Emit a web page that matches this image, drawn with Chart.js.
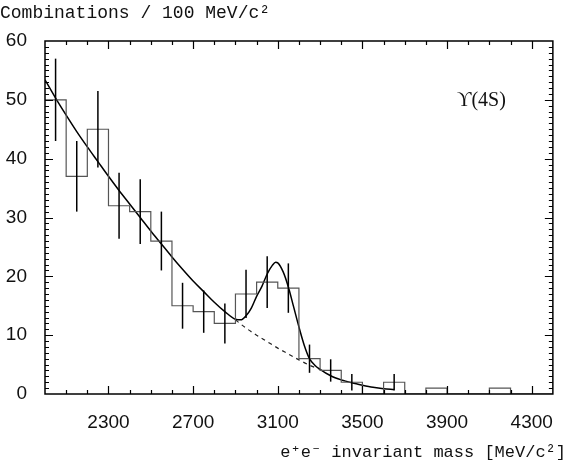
<!DOCTYPE html>
<html>
<head>
<meta charset="utf-8">
<script src="https://cdn.jsdelivr.net/npm/chart.js@4.4.0/dist/chart.umd.min.js"></script>
<style>
  html, body { margin: 0; padding: 0; background: #fff; }
  #wrap { width: 570px; height: 473px; }
</style>
</head>
<body>
<div id="wrap"><canvas id="mycanvas" width="570" height="473"></canvas></div>
<script>
// bins of 100 MeV/c2, lower edges
var binLow = [2000, 2100, 2200, 2300, 2400, 2500, 2600, 2700, 2800, 2900, 3000, 3100,
              3200, 3300, 3400, 3500, 3600, 3700, 3800, 3900, 4000, 4100, 4200, 4300];
var counts = [50, 37, 45, 32, 31, 26, 15, 14, 12, 17, 19, 18,
              6, 4, 2, 0, 2, 0, 1, 0, 0, 1, 0, 0];
var errors = [7, 6, 6.5, 5.6, 5.5, 5, 3.9, 3.6, 3.4, 4.1, 4.4, 4.2,
              2.4, 1.9, 1.4, 0, 1.4, 0, 0, 0, 0, 0, 0, 0];

// fit curve (signal + background)
var fitMass = [2000, 2050, 2100, 2150, 2200, 2250, 2300, 2350, 2400, 2450, 2500, 2550,
               2600, 2650, 2700, 2750, 2800, 2850, 2900, 2925, 2950, 2975, 3000, 3025,
               3050, 3075, 3090, 3100, 3125, 3150, 3175, 3200, 3225, 3250, 3275, 3300, 3350,
               3400, 3450, 3500, 3550, 3600, 3650];
var fitVal = [53.4, 50.3, 47.4, 44.6, 42.0, 39.5, 37.0, 34.6, 32.3, 30.0, 27.7, 25.5,
              23.3, 21.2, 19.2, 17.4, 15.6, 14.0, 12.7, 12.6, 13.3, 14.6, 16.6, 18.3,
              20.4, 21.9, 22.4, 22.3, 20.8, 18.2, 14.8, 11.4, 8.3, 6.0, 4.9, 4.2, 3.1,
              2.4, 1.9, 1.5, 1.15, 0.9, 0.75];

// background only, dashed below the peak
var bgMass = [2900, 2950, 3000, 3050, 3100, 3150, 3200, 3250, 3300];
var bgVal = [12.6, 11.2, 10.0, 8.9, 7.8, 6.8, 5.8, 4.9, 4.2];

var xTicks = [2300, 2700, 3100, 3500, 3900, 4300];
var yTicks = [0, 10, 20, 30, 40, 50, 60];

var histPts = [];
for (var i = 0; i < binLow.length; i++) {
    histPts.push({x: binLow[i], y: counts[i]});
}
histPts.push({x: binLow[binLow.length - 1] + 100, y: counts[counts.length - 1]});

var fitPts = [];
for (var i = 0; i < fitMass.length; i++) fitPts.push({x: fitMass[i], y: fitVal[i]});
var bgPts = [];
for (var i = 0; i < bgMass.length; i++) bgPts.push({x: bgMass[i], y: bgVal[i]});

// error bars at bin centres
var errorBars = {
    id: 'errorBars',
    afterDatasetsDraw: function(chart) {
        var ctx = chart.ctx, xs = chart.scales.x, ys = chart.scales.y;
        ctx.save();
        ctx.strokeStyle = '#000';
        ctx.lineWidth = 1.5;
        for (var i = 0; i < binLow.length; i++) {
            if (!errors[i]) continue;
            var px = xs.getPixelForValue(binLow[i] + 50);
            ctx.beginPath();
            ctx.moveTo(px, ys.getPixelForValue(counts[i] - errors[i]));
            ctx.lineTo(px, ys.getPixelForValue(counts[i] + errors[i]));
            ctx.stroke();
        }
        ctx.restore();
    }
};

// frame, inward ticks and the texts
var frame = {
    id: 'frame',
    afterDraw: function(chart) {
        var ctx = chart.ctx, a = chart.chartArea, xs = chart.scales.x, ys = chart.scales.y;
        ctx.save();
        ctx.strokeStyle = '#000';
        ctx.lineWidth = 1.5;
        ctx.strokeRect(a.left, a.top, a.right - a.left, a.bottom - a.top);
        ctx.lineWidth = 1.2;
        ctx.beginPath();
        for (var m = 2100; m < 4400; m += 100) {
            var px = Math.round(xs.getPixelForValue(m)) + 0.5;
            var len = xTicks.indexOf(m) >= 0 ? 8 : 4;
            ctx.moveTo(px, a.bottom); ctx.lineTo(px, a.bottom - len);
            ctx.moveTo(px, a.top); ctx.lineTo(px, a.top + len);
        }
        for (var v = 1; v < 60; v++) {
            var py = Math.round(ys.getPixelForValue(v)) + 0.5;
            var len = v % 10 == 0 ? 8 : 4;
            ctx.moveTo(a.left, py); ctx.lineTo(a.left + len, py);
            ctx.moveTo(a.right, py); ctx.lineTo(a.right - len, py);
        }
        ctx.stroke();

        ctx.fillStyle = '#111';
        ctx.textBaseline = 'middle';
        ctx.font = '18px "Liberation Mono", "DejaVu Sans Mono", monospace';
        ctx.textAlign = 'left';
        ctx.fillText('Combinations / 100 MeV/c\u00b2', 0, 13);
        ctx.font = '17px "Liberation Mono", "DejaVu Sans Mono", monospace';
        ctx.textAlign = 'right';
        ctx.fillText('e\u207ae\u207b invariant mass [MeV/c\u00b2]', 566, 452);
        ctx.font = '20px "Liberation Serif", "DejaVu Serif", serif';
        ctx.textAlign = 'left';
        ctx.fillText('\u03d2(4S)', 457, 101);
        ctx.restore();
    }
};

var ctx = document.getElementById("mycanvas");
var chart = new Chart(ctx, {
    type: 'line',
    data: {
        datasets: [{
            label: 'data',
            data: histPts,
            stepped: 'before',
            borderColor: '#555',
            borderWidth: 1.2,
            pointRadius: 0,
            fill: false
        }, {
            label: 'fit',
            data: fitPts,
            borderColor: '#000',
            borderWidth: 1.5,
            pointRadius: 0,
            cubicInterpolationMode: 'monotone',
            fill: false
        }, {
            label: 'background',
            data: bgPts,
            borderColor: '#222',
            borderWidth: 1.2,
            borderDash: [4, 4],
            pointRadius: 0,
            cubicInterpolationMode: 'monotone',
            fill: false
        }]
    },
    options: {
        responsive: false,
        animation: false,
        events: [],
        layout: { padding: { top: 41, right: 4, left: 0, bottom: 0 } },
        plugins: { legend: { display: false }, tooltip: { enabled: false }, title: { display: false } },
        scales: {
            x: {
                type: 'linear',
                min: 2000,
                max: 4400,
                grid: { display: false, drawTicks: false },
                border: { display: false },
                afterBuildTicks: function(scale) {
                    scale.ticks = xTicks.map(function(v) { return {value: v}; });
                },
                afterFit: function(scale) { scale.height = 79; },
                ticks: {
                    padding: 17,
                    maxRotation: 0,
                    color: '#111',
                    callback: function(v) { return String(v); },
                    font: { family: '"Liberation Sans", Arial, sans-serif', size: 19 }
                }
            },
            y: {
                min: 0,
                max: 60,
                grid: { display: false, drawTicks: false },
                border: { display: false },
                afterBuildTicks: function(scale) {
                    scale.ticks = yTicks.map(function(v) { return {value: v}; });
                },
                afterFit: function(scale) { scale.width = 45; },
                ticks: {
                    padding: 18,
                    color: '#111',
                    callback: function(v) { return String(v); },
                    font: { family: '"Liberation Sans", Arial, sans-serif', size: 19 }
                }
            }
        }
    },
    plugins: [errorBars, frame]
});
</script>
</body>
</html>
